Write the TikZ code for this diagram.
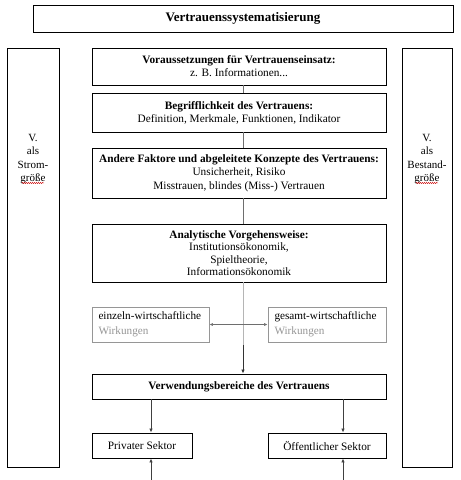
\documentclass[tikz,border=0pt]{standalone}
\usepackage{fontspec}
\setmainfont{Liberation Serif}
\usetikzlibrary{arrows.meta,decorations.pathmorphing}
\definecolor{lgray}{RGB}{150,150,150}
\definecolor{mgray}{RGB}{110,110,110}
\begin{document}
\begin{tikzpicture}[x=1pt,y=-1pt,
  box/.style={draw=black,line width=0.9pt,inner sep=0pt,align=center,font=\fontsize{11.3}{13}\selectfont},
  gbox/.style={draw=lgray,line width=0.8pt,inner sep=0pt,align=left,font=\fontsize{11.2}{14.5}\selectfont},
  conn/.style={draw=mgray,line width=1pt},
  tip/.style={-{Latex[length=4pt,width=3.5pt]}},
  wavy/.style={draw=red!80!black,line width=0.4pt,decorate,decoration={snake,amplitude=0.6pt,segment length=2pt}}]
\useasboundingbox (0,0) rectangle (461,480);
\fill[white] (0,0) rectangle (461,480);
% title
\node[box,minimum width=420pt,minimum height=27pt,font=\fontsize{13}{15}\selectfont\bfseries] (T) at (243,18.5) {Vertrauenssystematisierung};
% side boxes
\node[box,minimum width=52pt,minimum height=419pt] (L) at (33,257.5) {};
\node[box,minimum width=50pt,minimum height=419pt] (R) at (427,257.5) {};
\node[align=center,inner sep=0pt,font=\fontsize{11}{13.2}\selectfont] (Lt) at (33,159) {V.\\als\\Strom-\\größe};
\node[align=center,inner sep=0pt,font=\fontsize{11}{13.2}\selectfont] (Rt) at (427,159) {V.\\als\\Bestand-\\größe};
\draw[wavy] (22,183) -- (44,183);
\draw[wavy] (416,183) -- (438,183);
% main column
\node[box,minimum width=294pt,minimum height=37pt] (B1) at (239,66.5) {\textbf{Voraussetzungen für Vertrauenseinsatz:}\\z. B. Informationen...};
\node[box,minimum width=294pt,minimum height=39pt] (B2) at (239,112.5) {\textbf{Begrifflichkeit des Vertrauens:}\\Definition, Merkmale, Funktionen, Indikator};
\node[box,minimum width=294pt,minimum height=50pt,font=\fontsize{11.3}{13.5}\selectfont] (B3) at (239,173) {\textbf{Andere Faktore und abgeleitete Konzepte des Vertrauens:}\\Unsicherheit, Risiko\\Misstrauen, blindes (Miss-) Vertrauen};
\node[box,minimum width=294pt,minimum height=58pt,font=\fontsize{11.3}{12.5}\selectfont] (B4) at (239,253) {\textbf{Analytische Vorgehensweise:}\\Institutionsökonomik,\\Spieltheorie,\\Informationsökonomik};
\node[gbox,minimum width=117pt,minimum height=35pt,text width=104pt] (S1) at (150.5,324.5) {einzeln-wirtschaftliche\\\textcolor{lgray}{Wirkungen}};
\node[gbox,minimum width=118pt,minimum height=35pt,text width=105pt] (S2) at (327,324.5) {gesamt-wirtschaftliche\\\textcolor{lgray}{Wirkungen}};
\node[box,minimum width=294pt,minimum height=25pt,font=\fontsize{11.3}{13}\selectfont\bfseries] (V) at (239,386.5) {Verwendungsbereiche des Vertrauens};
\node[box,minimum width=100pt,minimum height=25pt] (P) at (142,445.5) {Privater Sektor};
\node[box,minimum width=118pt,minimum height=25pt] (O) at (327,445.5) {Öffentlicher Sektor};
% connectors
\coordinate (cx) at (243,0);
\draw[conn] (B1.south -| cx) -- (B2.north -| cx);
\draw[conn] (B2.south -| cx) -- (B3.north -| cx);
\draw[conn] (B3.south -| cx) -- (B4.north -| cx);
\coordinate (mid) at (243,345);
\draw[draw=lgray!70,line width=1pt] (B4.south -| cx) -- (mid);
\draw[conn,tip,draw=black!80] (mid) -- (V.north -| cx);
\draw[draw=mgray,line width=0.6pt,{Latex[length=3.5pt,width=3pt]}-{Latex[length=3.5pt,width=3pt]}] (S1.east) -- (S2.west);
\coordinate (xp) at (151,0);
\coordinate (xo) at (343,0);
\draw[conn,tip,draw=black!75] (V.south -| xp) -- (P.north -| xp);
\draw[conn,tip,draw=black!75] (V.south -| xo) -- (O.north -| xo);
\coordinate (bp) at (151,480);
\coordinate (bo) at (343,480);
\draw[conn,tip,draw=black!75] (bp) -- (P.south -| xp);
\draw[conn,tip,draw=black!75] (bo) -- (O.south -| xo);
\end{tikzpicture}
\end{document}
